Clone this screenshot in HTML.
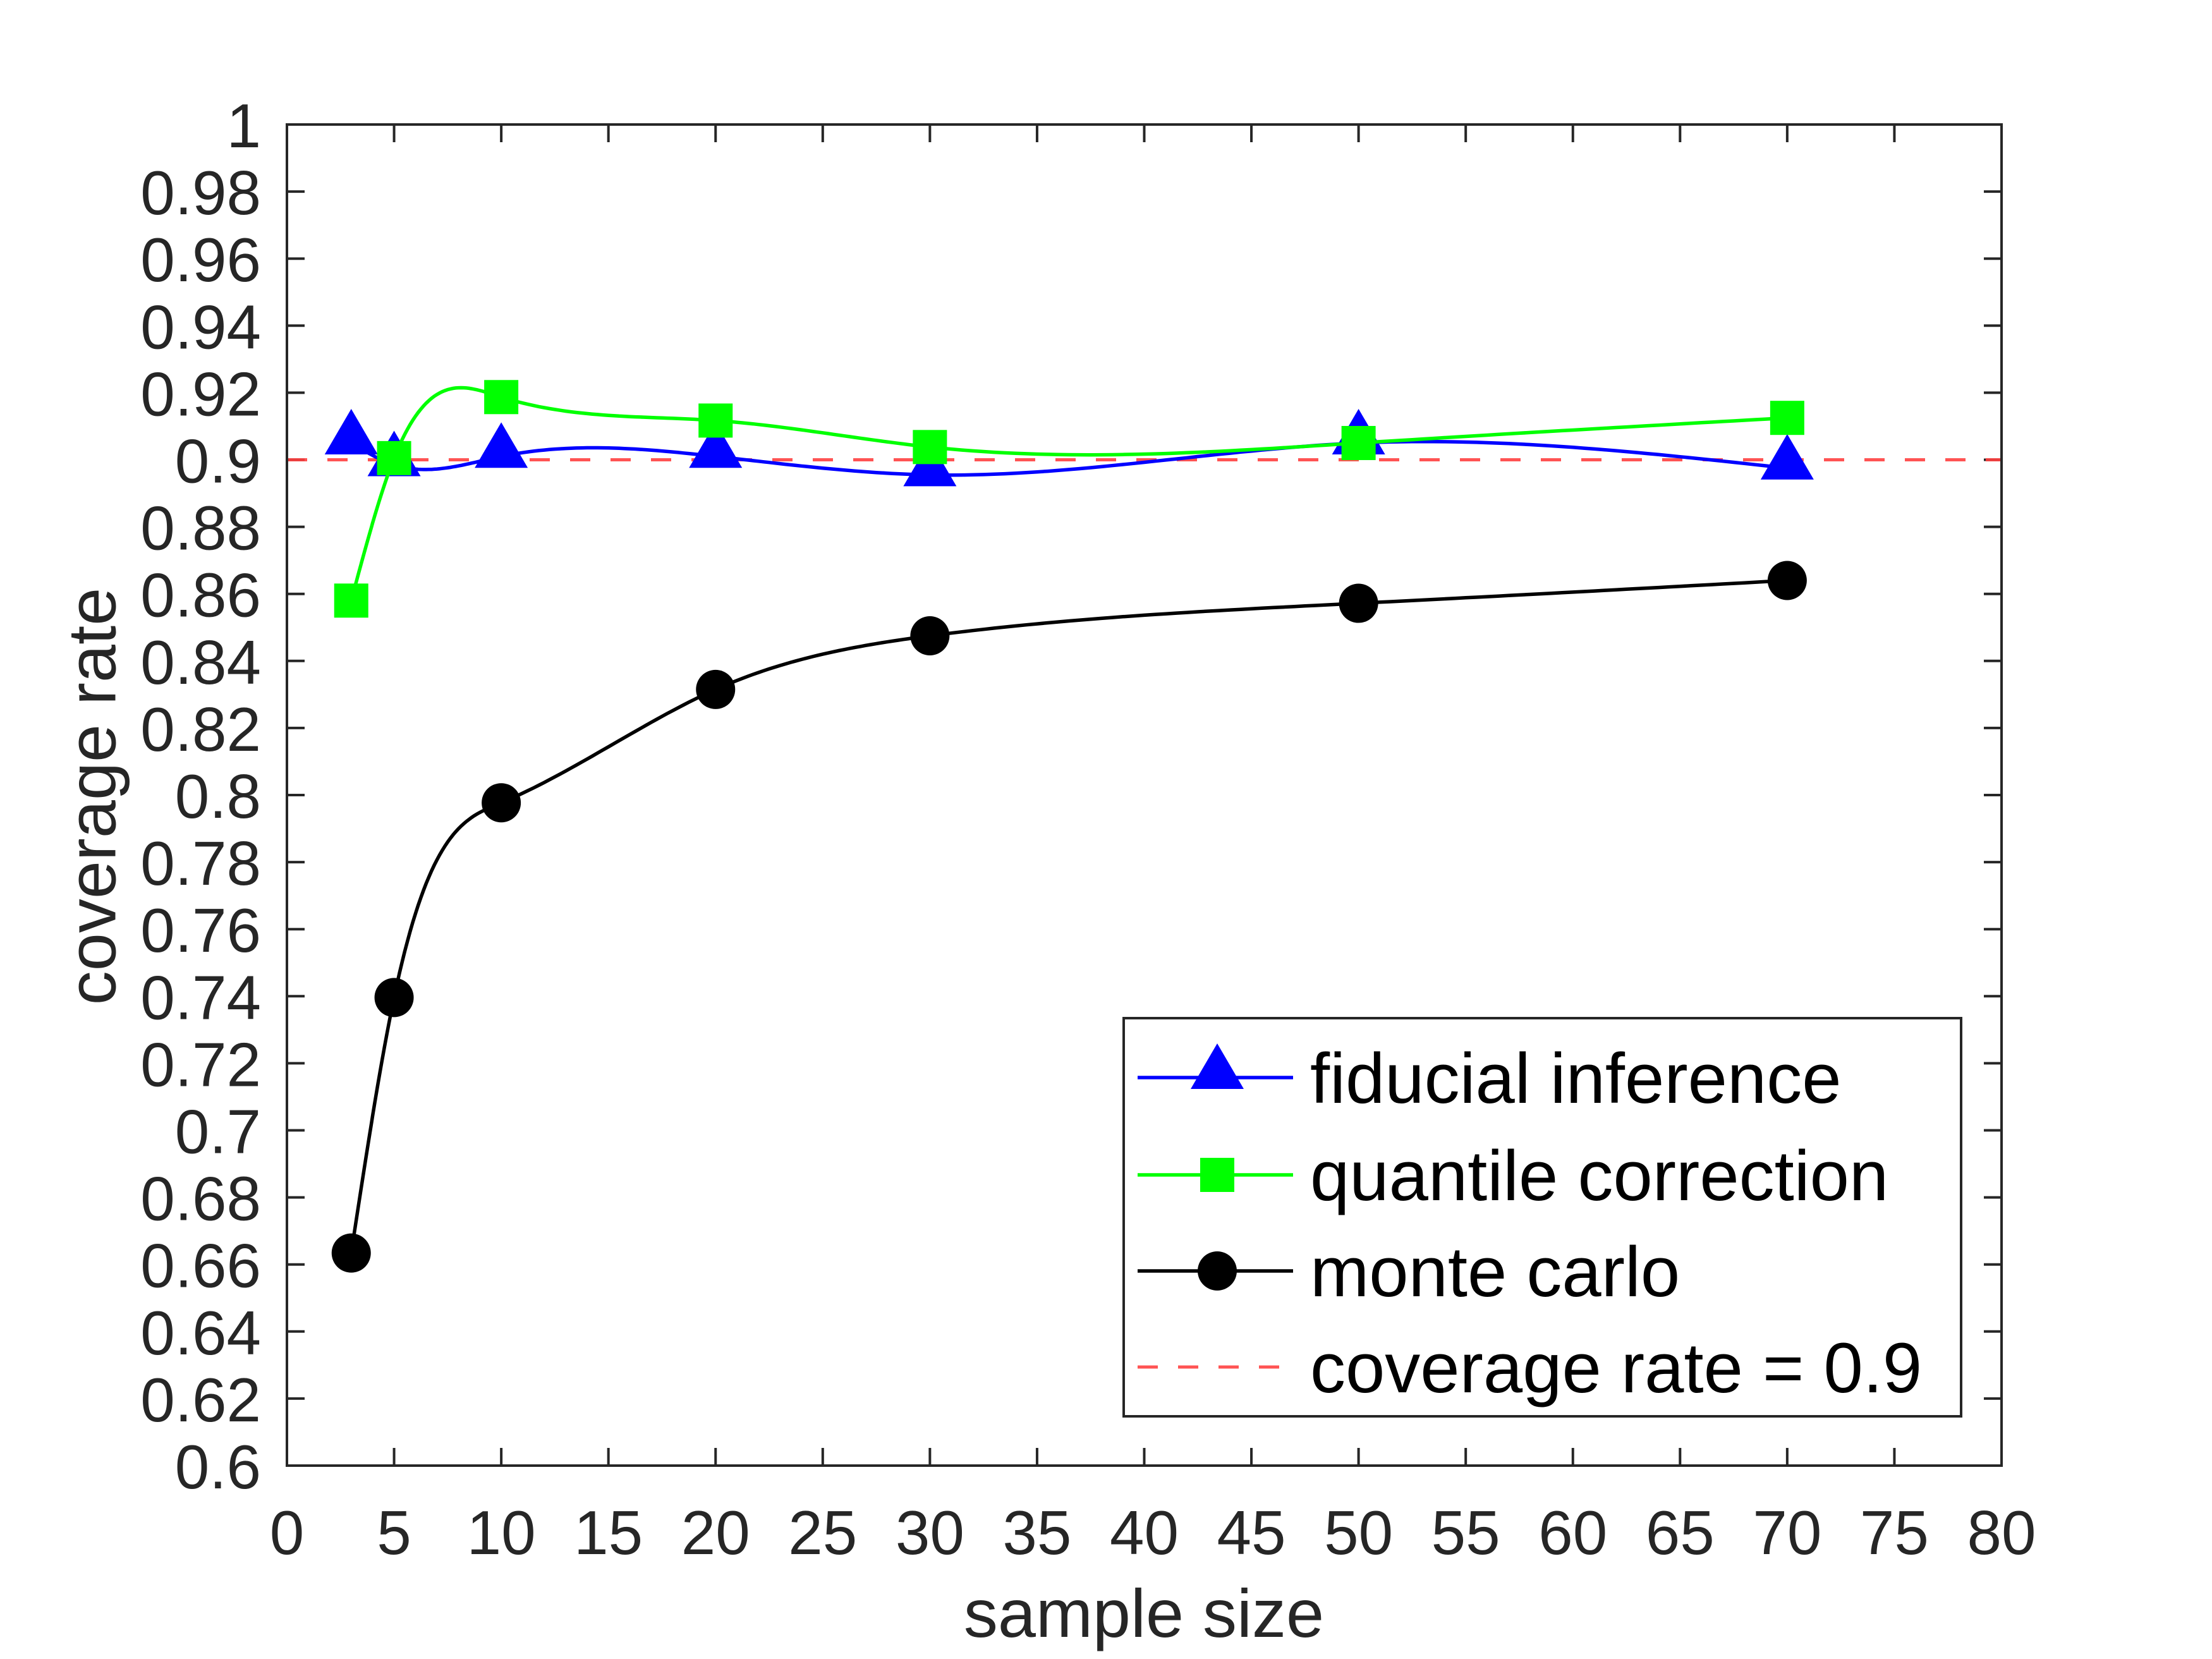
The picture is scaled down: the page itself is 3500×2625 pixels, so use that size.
<!DOCTYPE html>
<html><head><meta charset="utf-8"><style>
html,body{margin:0;padding:0;background:#fff}
svg{display:block}
text{font-family:"Liberation Sans",sans-serif;fill:#262626}
</style></head><body>
<svg id="chart" width="3500" height="2625" viewBox="0 0 3500 2625" xmlns="http://www.w3.org/2000/svg">
<rect x="0" y="0" width="3500" height="2625" fill="#fff"/>
<g id="ticks"></g>
<g id="series"></g>
<rect x="454" y="197" width="2713" height="2122" fill="none" stroke="#262626" stroke-width="4"/>
<text x="1810" y="2590" font-size="108" text-anchor="middle">sample size</text>
<text transform="translate(145,1260) rotate(-90)" font-size="108" text-anchor="middle" dominant-baseline="central">coverage rate</text>
<g id="legend">
<rect x="1778" y="1611" width="1325" height="630" fill="#fff" stroke="#262626" stroke-width="4"/>
</g>
</svg>
<script>
const xValues = [3, 5, 10, 20, 30, 50, 70];
const fiducialValues = [0.905, 0.8985, 0.901, 0.901, 0.8955, 0.905, 0.8975];
const quantileValues = [0.858, 0.9005, 0.9187, 0.9117, 0.9038, 0.905, 0.9125];
const monteValues = [0.6634, 0.7396, 0.7977, 0.8315, 0.8475, 0.8572, 0.864];
const referenceRate = 0.9;
const xTicks = [0,5,10,15,20,25,30,35,40,45,50,55,60,65,70,75,80];
const yTicks = [0.6,0.62,0.64,0.66,0.68,0.7,0.72,0.74,0.76,0.78,0.8,0.82,0.84,0.86,0.88,0.9,0.92,0.94,0.96,0.98,1];
const legendLabels = ["fiducial inference","quantile correction","monte carlo","coverage rate = 0.9"];

const NS="http://www.w3.org/2000/svg";
const L=454,R=3167,T=197,B=2319;
const xs=v=>L+(v-0)/(80-0)*(R-L);
const ys=v=>B-(v-0.6)/(1-0.6)*(B-T);
function mk(tag,parent,attrs){const e=document.createElementNS(NS,tag);for(const k in attrs)e.setAttribute(k,attrs[k]);parent.appendChild(e);return e;}

const tg=document.getElementById('ticks');
xTicks.forEach(t=>{
  const x=xs(t);
  let l=mk('line',tg,{x1:x,x2:x,y1:B,y2:B-28,stroke:'#262626','stroke-width':4});
  
  
  l=mk('line',tg,{x1:x,x2:x,y1:T,y2:T+28,stroke:'#262626','stroke-width':4});
  
  
  const tx=mk('text',tg,{x:x,y:2459,'font-size':98,'text-anchor':'middle'});
  tx.textContent=String(t);
  
  
});
yTicks.forEach(t=>{
  const y=ys(t);
  let l=mk('line',tg,{x1:L,x2:L+28,y1:y,y2:y,stroke:'#262626','stroke-width':4});
  
  
  l=mk('line',tg,{x1:R,x2:R-28,y1:y,y2:y,stroke:'#262626','stroke-width':4});
  
  
  const tx=mk('text',tg,{x:413,y:y+36,'font-size':98,'text-anchor':'end'});
  tx.textContent=String(Math.round(t*100)/100);
  
  
});

function spline(xa,ya){
  const n=xa.length,h=[],a=[],c=new Array(n).fill(0);
  for(let i=0;i<n-1;i++)h.push(xa[i+1]-xa[i]);
  const l=[1],mu=[0],z=[0];
  for(let i=1;i<n-1;i++){
    const al=3/h[i]*(ya[i+1]-ya[i])-3/h[i-1]*(ya[i]-ya[i-1]);
    l[i]=2*(xa[i+1]-xa[i-1])-h[i-1]*mu[i-1];
    mu[i]=h[i]/l[i];z[i]=(al-h[i-1]*z[i-1])/l[i];
  }
  const b=[],d=[];
  for(let j=n-2;j>=0;j--){
    c[j]=(j===0?0:z[j]-mu[j]*c[j+1]);
    b[j]=(ya[j+1]-ya[j])/h[j]-h[j]*(c[j+1]+2*c[j])/3;
    d[j]=(c[j+1]-c[j])/(3*h[j]);
  }
  const pts=[];
  for(let j=0;j<n-1;j++){
    for(let s=0;s<=40;s++){
      const t=h[j]*s/40;
      const v=ya[j]+b[j]*t+c[j]*t*t+d[j]*t*t*t;
      pts.push(xs(xa[j]+t).toFixed(1)+','+ys(v).toFixed(1));
    }
  }
  return pts.join(' ');
}
const sg=document.getElementById('series');
// reference line
let ref=mk('line',sg,{x1:L,x2:R,y1:ys(referenceRate),y2:ys(referenceRate),stroke:'#ff4040','stroke-opacity':0.9,'stroke-width':5,'stroke-dasharray':'32 32'});



function marker(g,type,cx,cy,color){
  let m;
  if(type==='tri'){
    m=mk('polygon',g,{points:`${cx},${cy-48} ${cx-42},${cy+24} ${cx+42},${cy+24}`,fill:color});
  }else if(type==='sq'){
    m=mk('rect',g,{x:cx-27,y:cy-27,width:54,height:54,fill:color});
  }else{
    m=mk('circle',g,{cx:cx,cy:cy,r:31,fill:color});
  }
  return m;
}
const seriesDefs=[
  {vals:fiducialValues,color:'#0000ff',type:'tri',name:'fiducial'},
  {vals:quantileValues,color:'#00ff00',type:'sq',name:'quantile'},
  {vals:monteValues,color:'#000000',type:'circ',name:'monte-carlo'}
];
seriesDefs.forEach(s=>{
  const g=mk('g',sg,{});
  
  
  const pl=mk('polyline',g,{points:spline(xValues,s.vals),fill:'none',stroke:s.color,'stroke-width':5.5});
  
  
  xValues.forEach((x,i)=>{
    const off=s.type==='tri'?-6:0;
    const m=marker(g,s.type,xs(x),ys(s.vals[i])+off,s.color);
    
    
  });
});

const lg=document.getElementById('legend');
const rowsY=[1705,1859,2011,2163];
const types=['tri','sq','circ','dash'];
const colors=['#0000ff','#00ff00','#000000','#ff4040'];
legendLabels.forEach((lab,i)=>{
  const y=rowsY[i];
  const g=mk('g',lg,{});
  
  
  if(types[i]==='dash'){
    mk('line',g,{x1:1800,x2:2030,y1:y,y2:y,stroke:colors[i],'stroke-width':5,'stroke-dasharray':'32 32','stroke-opacity':0.9});
  }else{
    mk('line',g,{x1:1800,x2:2046,y1:y,y2:y,stroke:colors[i],'stroke-width':5.5});
    marker(g,types[i],1926,y+(types[i]==='tri'?-6:0),colors[i]);
  }
  const t=mk('text',g,{x:2073,y:y+40,'font-size':112,fill:'#000'});
  t.setAttribute('style','fill:#000');
  t.textContent=lab;
});
</script>
</body></html>
